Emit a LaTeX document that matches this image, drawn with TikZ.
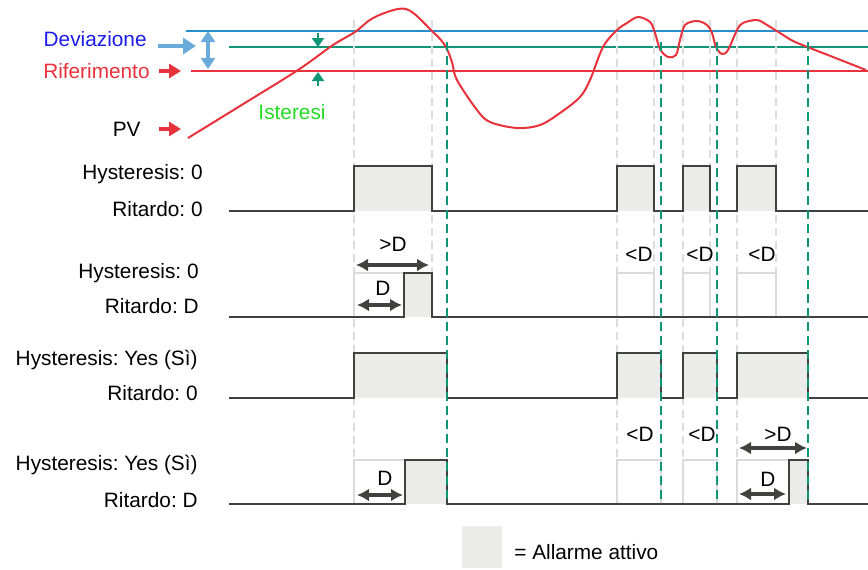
\documentclass[tikz,border=0pt]{standalone}
\usepackage{fontspec}
\setmainfont{Liberation Sans}
\usetikzlibrary{arrows.meta,positioning}
\definecolor{devblue}{RGB}{28,28,232}
\definecolor{pvred}{RGB}{232,50,60}
\definecolor{lineblue}{RGB}{40,140,205}
\definecolor{arrblue}{RGB}{105,172,220}
\definecolor{hystgreen}{RGB}{16,150,118}
\definecolor{isgreen}{RGB}{34,220,34}
\definecolor{sigc}{RGB}{64,66,64}
\definecolor{onc}{RGB}{235,235,233}
\definecolor{ghostc}{RGB}{218,218,218}
\definecolor{tickc}{RGB}{220,220,220}
\frenchspacing

\begin{document}
\begin{tikzpicture}[x=0.5pt,y=-0.5pt,>=Latex,font=\fontsize{10.4}{12.5}\selectfont,
  lbl/.style={anchor=east,inner sep=0pt},
  txt/.style={inner sep=0pt},
  sig/.style={draw=sigc,line width=1pt},
  on/.style={fill=onc},
  ghost/.style={draw=ghostc,line width=0.9pt},
  tickline/.style={draw=tickc,line width=1pt,dash pattern=on 4pt off 2.5pt},
  hystline/.style={draw=hystgreen,line width=1.2pt,dash pattern=on 4.5pt off 2.5pt},
  span/.style={{Latex[length=6pt,width=6.5pt]}-{Latex[length=6pt,width=6.5pt]},draw=sigc,line width=1.6pt},
  redarr/.style={-{Triangle[length=6pt,width=7pt]},draw=pvred,line width=1.6pt},
  bluearr/.style={-{Triangle[length=6.5pt,width=8pt]},draw=arrblue,line width=2pt}]
\useasboundingbox (0,0) rectangle (868,569);

% legend of the top part
\node[lbl,text=devblue] (dev) at (147,39) {Deviazione};
\node[lbl,text=pvred] (rif) at (150,71) {Riferimento};
\node[lbl] (pv) at (141,129) {PV};
\node[txt,text=isgreen] (ist) at (292,112) {Isteresi};
\coordinate (devA) at (158,46); \coordinate (devB) at (196,46);
\coordinate (rifA) at (159,71); \coordinate (rifB) at (181,71);
\coordinate (pvA) at (159,129); \coordinate (pvB) at (181,129);
\coordinate (dvT) at (208,31); \coordinate (dvB) at (208,69);
\coordinate (hyA) at (318,33); \coordinate (hyB) at (318,47);
\coordinate (hyC) at (318,86); \coordinate (hyD) at (318,72);
\draw[bluearr] (devA) -- (devB);
\draw[redarr] (rifA) -- (rifB);
\draw[redarr] (pvA) -- (pvB);
\draw[{Triangle[length=5.5pt,width=7pt]}-{Triangle[length=5.5pt,width=7pt]},draw=arrblue,line width=1.6pt] (dvT) -- (dvB);
\draw[-{Triangle[length=4.5pt,width=6pt]},draw=hystgreen,line width=1.1pt] (hyA) -- (hyB);
\draw[-{Triangle[length=4.5pt,width=6pt]},draw=hystgreen,line width=1.1pt] (hyC) -- (hyD);

% thresholds
\draw[lineblue,line width=1pt] (186,31) -- (868,31);
\draw[hystgreen,line width=1pt] (229,47) -- (868,47);
\draw[pvred,line width=1pt] (191,71) -- (868,71);

% time marks
\foreach \x in {354,617,683,737} \draw[tickline] (\x,20) -- (\x,504);
\foreach \x in {432,654,710,776} \draw[tickline] (\x,20) -- (\x,317);

% process value
\draw[pvred,line width=1pt] plot[smooth,tension=0.55] coordinates {(188,138) (240,106) (298,70) (333,45) (355,32) (373,18) (398,9) (412,12) (433,32) (441,40) (447,49) (452,62) (457,80) (477,110) (490,122) (517,128) (540,125) (560,113) (580,97) (590,80) (603,47) (617,30) (627,23) (638,17) (650,22) (655,33) (660,49) (668,57) (676,55) (680,40) (685,25) (697,21) (707,25) (712,33) (716,47) (722,54) (728,50) (737,30) (743,23) (757,20) (767,25) (780,33) (793,41) (810,48) (833,57) (866,70)};

% row labels
\node[lbl] (h1) at (203,174) {Hysteresis: 0};
\node[lbl] (r1) at (203,209) {Ritardo: 0};
\node[lbl] (h2) at (199,273) {Hysteresis: 0};
\node[lbl] (r2) at (199,306) {Ritardo: D};
\node[lbl] (h3) at (198,360) {Hysteresis: Yes (Sì)};
\node[lbl] (r3) at (198,393) {Ritardo: 0};
\node[lbl] (h4) at (198,465) {Hysteresis: Yes (Sì)};
\node[lbl] (r4) at (198,500) {Ritardo: D};

% row 1
\foreach \a/\b in {354/432,617/654,683/710,737/776} \fill[on] (\a,166) rectangle (\b,211);
\draw[sig] (229,211) -| (354,166) -| (432,211) -| (617,166) -| (654,211) -| (683,166) -| (710,211) -| (737,166) -| (776,211) -- (868,211);

% row 2
\fill[on] (404,273) rectangle (432,317);
\draw[ghost] (354,317) -- (354,273) -- (404,273);
\foreach \a/\b in {617/654,683/710,737/776} \draw[ghost] (\a,317) |- (\b,273) -- (\b,317);
\draw[sig] (229,317) -| (404,273) -| (432,317) -- (868,317);

% row 3
\foreach \a/\b in {354/447,617/661,683/717,737/808} \fill[on] (\a,353) rectangle (\b,398);
\draw[sig] (229,398) -| (354,353) -| (447,398) -| (617,353) -| (661,398) -| (683,353) -| (717,398) -| (737,353) -| (808,398) -- (868,398);

% row 4
\fill[on] (405,460) rectangle (447,504);
\fill[on] (789,460) rectangle (808,504);
\draw[ghost] (354,504) -- (354,460) -- (405,460);
\draw[ghost] (737,504) -- (737,460) -- (789,460);
\foreach \a/\b in {617/661,683/717} \draw[ghost] (\a,504) |- (\b,460) -- (\b,504);
\draw[sig] (229,504) -| (405,460) -| (447,504) -| (789,460) -| (808,504) -- (868,504);

% hysteresis release
\foreach \x in {447,661,717,808} \draw[hystline] (\x,42) -- (\x,504);

% delay spans
\coordinate (s1a) at (356,265); \coordinate (s1b) at (429,265);
\coordinate (s2a) at (357,305); \coordinate (s2b) at (402,305);
\coordinate (s3a) at (357,495); \coordinate (s3b) at (403,495);
\coordinate (s4a) at (739,448); \coordinate (s4b) at (807,448);
\coordinate (s5a) at (739,494); \coordinate (s5b) at (786,494);
\draw[span] (s1a) -- (s1b);
\draw[span] (s2a) -- (s2b);
\draw[span] (s3a) -- (s3b);
\draw[span] (s4a) -- (s4b);
\draw[span] (s5a) -- (s5b);
\node[txt] (g1) at (393,244) {>D};
\node[txt] (d1) at (383,288) {D};
\node[txt] (l1) at (639,254) {<D};
\node[txt] (l2) at (700,254) {<D};
\node[txt] (l3) at (762,254) {<D};
\node[txt] (l4) at (640,434) {<D};
\node[txt] (l5) at (702,434) {<D};
\node[txt] (g2) at (778,434) {>D};
\node[txt] (d2) at (385,478) {D};
\node[txt] (d3) at (768,479) {D};

% key
\node[on,minimum width=20pt,minimum height=21pt,inner sep=0pt] (key) at (481.5,547) {};
\node[txt,anchor=west] (keytxt) at (514,552) {= Allarme attivo};
\end{tikzpicture}
\end{document}
